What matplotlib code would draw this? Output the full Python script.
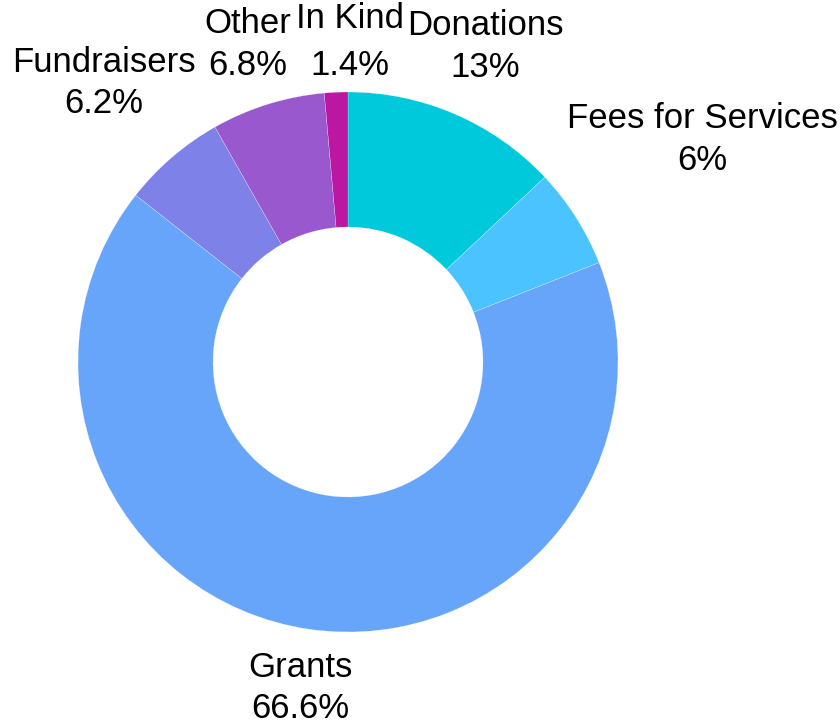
import matplotlib
matplotlib.use("Agg")
import matplotlib.pyplot as plt

categories = ["Donations", "Fees for Services", "Grants", "Fundraisers", "Other", "In Kind"]
values = [13, 6, 66.6, 6.2, 6.8, 1.4]
colors = ["#00C9DC", "#4BC3FF", "#66A5FA", "#7E82E8", "#9A58CF", "#BC17A0"]

# label placement (pixel coords from top-left: x center, name baseline, pct baseline)
label_pos = [(485, 35, 77), (702, 128, 170), (300, 677, 718),
             (104, 72, 113), (248, 33, 75), (350, 28, 75)]

W, H = 840, 725
fig = plt.figure(figsize=(W / 100, H / 100), dpi=100)
ax = fig.add_axes([0, 0, 1, 1])
ax.set_xlim(0, W)
ax.set_ylim(0, H)
ax.set_aspect("equal")
ax.axis("off")

R = 270
ax.pie(values, colors=colors, startangle=90, counterclock=False,
       center=(348, H - 362), radius=R,
       wedgeprops=dict(width=R * 0.5, edgecolor="white", linewidth=0.15))
ax.set_xlim(0, W)
ax.set_ylim(0, H)

font = dict(family=["Liberation Sans", "DejaVu Sans"], fontsize=25, color="#000000")
for cat, val, (x, y1, y2) in zip(categories, values, label_pos):
    ax.text(x, H - y1, cat, ha="center", va="baseline", **font)
    ax.text(x, H - y2, f"{val:g}%", ha="center", va="baseline", **font)

fig.savefig("out.png", dpi=100)
